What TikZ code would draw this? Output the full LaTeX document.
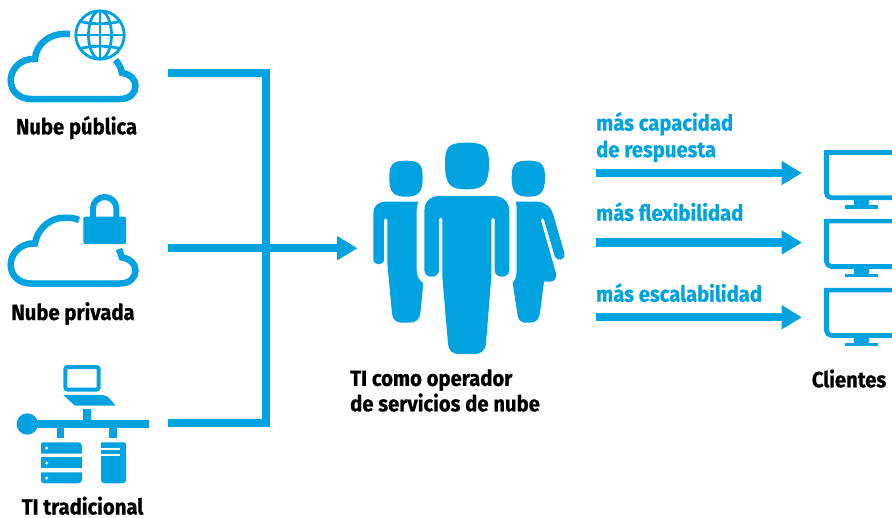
\documentclass[tikz,border=0pt]{standalone}
\usepackage{fontspec}
\setmainfont{Fira Sans}[BoldFeatures={FakeStretch=0.92,FakeBold=0.7}]
\usetikzlibrary{arrows.meta}
\definecolor{hpblue}{HTML}{00A3DF}
\tikzset{
  cloudline/.style={draw=hpblue,line width=6.5pt,line cap=butt},
  conn/.style={draw=hpblue,line width=8.2pt,line join=miter},
  connarrow/.style={draw=hpblue,line width=8.2pt,-{Triangle[length=20.5pt,width=23pt]}},
  solidicon/.style={fill=hpblue,draw=none},
  whiteicon/.style={fill=white,draw=none},
  globeline/.style={draw=hpblue,line width=2.8pt},
  blacklabel/.style={font=\fontsize{22}{25.4}\selectfont\bfseries,text=black,inner sep=0pt,align=left,anchor=base},
  bluelabel/.style={font=\fontsize{22}{26.6}\selectfont\bfseries,text=hpblue,inner sep=0pt,align=left,anchor=base west},
  screenline/.style={draw=hpblue,line width=4.7pt}
}
\begin{document}
\begin{tikzpicture}[x=1pt,y=-1pt]
\useasboundingbox (0,0) rectangle (892,517);
\clip (0,0) rectangle (892,517);
% cloud 1
\draw[cloudline] (70,34) .. controls (50,32) and (36,44) .. (35,59)
  .. controls (20,58) and (10.7,70) .. (10.7,80)
  .. controls (10.7,92) and (20,99) .. (31,99) -- (120,99)
  .. controls (130,99) and (135.5,93) .. (135.5,86)
  .. controls (135.5,79) and (130,74) .. (122,73)
  .. controls (121,68) and (119,64) .. (115.5,60);
% globe
\begin{scope}
\draw[globeline] (100,35) circle (24.2);
\clip (100,35) circle (24.2);
\draw[globeline] (100,35) ellipse (11.5 and 24.2);
\draw[globeline] (100,10) -- (100,60);
\draw[globeline] (75,35) -- (125,35);
\draw[globeline] (76,20) .. controls (88,25) and (112,25) .. (124,20);
\draw[globeline] (76,50) .. controls (88,45) and (112,45) .. (124,50);
\end{scope}
% cloud 2
\draw[cloudline] (79,220) .. controls (72,217) and (66,217.7) .. (60,218)
  .. controls (48,220) and (37,230) .. (35,243.5)
  .. controls (20,242.5) and (10.7,254.5) .. (10.7,264.5)
  .. controls (10.7,276.5) and (20,283.5) .. (31,283.5) -- (120,283.5)
  .. controls (130,283.5) and (135.5,277.5) .. (135.5,270.5)
  .. controls (135.5,263.5) and (130,258.5) .. (122,257.5)
  -- (119,249);
% lock
\draw[draw=hpblue,line width=6pt] (93,218) -- (93,208.5) arc[start angle=180,end angle=360,x radius=11.7,y radius=11.5] -- (116.4,218);
\fill[solidicon,rounded corners=2pt] (83.3,216.7) rectangle (126,244);
% traditional IT
\draw[draw=hpblue,line width=4pt,rounded corners=2.5pt] (65.3,367) rectangle (98.7,389.7);
\fill[solidicon] (63.3,395) -- (103,395) .. controls (106,395) and (108,397) .. (110,399) -- (115.7,405.7) -- (75,405.7) -- cycle;
\fill[solidicon] (82.7,409.3) rectangle (91,424);
\fill[solidicon] (27,420) rectangle (149,428.3);
\fill[solidicon] (27.3,424) circle (10.7);
\fill[solidicon] (56.7,428) rectangle (64.3,438.3);
\fill[solidicon] (109.3,428) rectangle (117.3,438.3);
\fill[solidicon] (41,453.7) -- (41,444.3) .. controls (41,443) and (42,442.3) .. (43,442.3) -- (78,442.3) .. controls (80,442.3) and (82,444) .. (82,446) -- (82,453.7) -- cycle;
\fill[solidicon] (41,457.3) rectangle (82,468.3);
\fill[solidicon] (41,472.3) -- (82,472.3) -- (82,480) .. controls (82,482) and (80,483.3) .. (78,483.3) -- (44,483.3) .. controls (42,483.3) and (41,482) .. (41,480) -- cycle;
\fill[whiteicon] (46.7,448) circle (1.7);
\fill[whiteicon] (46.7,463) circle (1.7);
\fill[whiteicon] (46.7,478) circle (1.7);
\fill[solidicon] (101,442.3) -- (124,442.3) .. controls (125.5,442.3) and (126,443) .. (126,444.5) -- (126,480) .. controls (126,482) and (124.5,483.3) .. (122.5,483.3) -- (104.5,483.3) .. controls (102.5,483.3) and (101,482) .. (101,480) -- cycle;
\fill[whiteicon] (101,447.7) rectangle (120,450);
\fill[whiteicon] (101,454) rectangle (120,456.3);
% people (zoom coordinates)
\begin{scope}[shift={(360,130)},x=0.3333pt,y=-0.3333pt]
\fill[solidicon] (320,38) .. controls (375,38) and (387,50) .. (387,100)
  .. controls (387,165) and (370,178) .. (320,178)
  .. controls (270,178) and (255,165) .. (255,100)
  .. controls (255,50) and (265,38) .. (320,38) -- cycle;
\fill[solidicon] (240,198) -- (400,198) .. controls (430,198) and (448,215) .. (448,245)
  -- (448,420) .. controls (448,447) and (404,447) .. (404,420)
  -- (404,268) .. controls (404,261) and (394,261) .. (394,268)
  -- (394,440) -- (378,640) .. controls (376,664) and (360,672) .. (345,672)
  -- (295,672) .. controls (280,672) and (266,664) .. (264,640)
  -- (247,440) -- (247,268) .. controls (247,261) and (237,261) .. (237,268)
  -- (237,420) .. controls (237,447) and (193,447) .. (193,420)
  -- (193,245) .. controls (193,215) and (210,198) .. (240,198) -- cycle;
% left
\fill[solidicon] (138,92) .. controls (178,92) and (188,102) .. (188,145)
  .. controls (188,190) and (172,200) .. (138,200)
  .. controls (104,200) and (88,190) .. (88,145)
  .. controls (88,102) and (98,92) .. (138,92) -- cycle;
\fill[solidicon] (75,215) -- (175,215) .. controls (170,225) and (170,235) .. (170,245)
  -- (170,420) .. controls (170,440) and (178,452) .. (190,460)
  -- (181,550) .. controls (179,570) and (165,578) .. (150,578)
  -- (125,578) .. controls (110,578) and (98,570) .. (96,550)
  -- (82,400) -- (82,270) .. controls (82,263) and (72,263) .. (72,270)
  -- (72,388) .. controls (72,408) and (40,408) .. (40,388)
  -- (40,250) .. controls (40,228) and (55,215) .. (75,215) -- cycle;
% right
\fill[solidicon] (505,92) .. controls (545,92) and (555,102) .. (555,145)
  .. controls (555,190) and (539,200) .. (505,200)
  .. controls (471,200) and (455,190) .. (455,145)
  .. controls (455,102) and (465,92) .. (505,92) -- cycle;
\fill[solidicon] (468,215) -- (530,215) .. controls (555,215) and (573,230) .. (580,255)
  -- (613,368) .. controls (618,392) and (590,398) .. (583,375)
  -- (553,272) .. controls (551,263) and (541,263) .. (544,275)
  -- (588,430) .. controls (592,445) and (582,455) .. (570,455)
  -- (552,455) -- (540,550) .. controls (538,570) and (525,578) .. (510,578)
  -- (497,578) .. controls (482,578) and (474,570) .. (472,550)
  -- (458,458) .. controls (466,450) and (470,440) .. (470,420)
  -- (470,245) .. controls (470,235) and (470,225) .. (468,215) -- cycle;
\end{scope}
% monitors
\foreach \dy/\n in {0/a,68.7/b,137.7/c}{
  \draw[screenline] (930,152.4+\dy) -- (826.4,152.4+\dy) [rounded corners=5pt] -- (826.4,197.7+\dy) -- (930,197.7+\dy);
  \fill[solidicon] (854,199+\dy) rectangle (869.3,206+\dy);
  \fill[solidicon] (845,205+\dy) rectangle (878,208.5+\dy);
}
% nodes
\node[blacklabel] (pub) at (76.5,134.3) {Nube pública};
\node[blacklabel] (pri) at (73,320) {Nube privada};
\node[blacklabel] (tra) at (82.5,514.5) {TI tradicional};
\node[blacklabel,anchor=north west] (op) at (350,369) {TI como operador\\de servicios de nube};
\node[blacklabel] (cli) at (849,387.3) {Clientes};
\node[bluelabel,anchor=north west] (l1) at (596,112) {más capacidad\\de respuesta};
\node[bluelabel] (l2) at (596,220.7) {más flexibilidad};
\node[bluelabel] (l3) at (596,301.7) {más escalabilidad};
% connectors
\coordinate (s1) at (168,73.3);
\coordinate (s2) at (168,248.2);
\coordinate (s3) at (168,423);
\coordinate (c1) at (265.8,73.3);
\coordinate (c3) at (265.8,423);
\coordinate (hub) at (357.5,248.2);
\draw[conn] (s1) -- (c1) -- (c3) -- (s3);
\draw[connarrow] (s2) -- (hub);
\coordinate (r1) at (596,173);
\coordinate (r2) at (596,242.5);
\coordinate (r3) at (596,317.3);
\coordinate (t1) at (802,173);
\coordinate (t2) at (802,242.5);
\coordinate (t3) at (802,317.3);
\draw[connarrow] (r1) -- (t1);
\draw[connarrow] (r2) -- (t2);
\draw[connarrow] (r3) -- (t3);
\end{tikzpicture}
\end{document}
